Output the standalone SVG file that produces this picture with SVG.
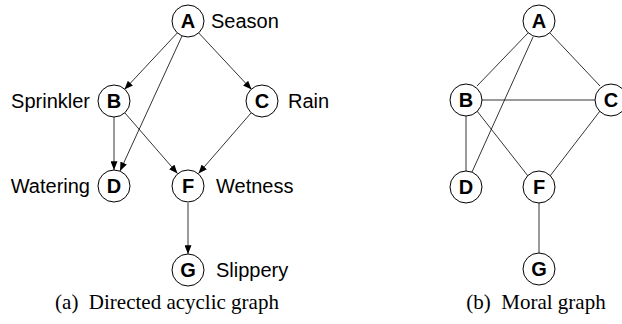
<svg xmlns="http://www.w3.org/2000/svg" width="622" height="324" viewBox="0 0 622 324">
<defs>
<style>
.n{fill:#fff;stroke:#000;stroke-width:1}
.nl{font-family:"Liberation Sans",Arial,sans-serif;font-weight:bold;font-size:20px;text-anchor:middle;fill:#000}
.lb{font-family:"Liberation Sans",Arial,sans-serif;font-size:20px;fill:#000}
.cap{font-family:"Liberation Serif","Times New Roman",serif;font-size:21px;fill:#000;text-anchor:middle}
.e{stroke:#000;stroke-width:0.8;fill:none}
.d{marker-end:url(#ah)}
</style>
<marker id="ah" viewBox="0 0 10 8" refX="10" refY="4" markerWidth="9" markerHeight="7" markerUnits="userSpaceOnUse" orient="auto">
<path d="M0,0 L10,4 L0,8 z" fill="#000"/>
</marker>
</defs>
<g id="connectors">
<line class="e d" x1="177.5" y1="32.7" x2="124.4" y2="89.6"/>
<line class="e d" x1="198.5" y1="32.7" x2="251.6" y2="89.6"/>
<line class="e d" x1="182" y1="36" x2="120" y2="171"/>
<line class="e d" x1="114" y1="117" x2="114" y2="170"/>
<line class="e d" x1="125" y1="113" x2="177.5" y2="173.5"/>
<line class="e d" x1="251" y1="113" x2="198.5" y2="173.5"/>
<line class="e d" x1="188" y1="203" x2="188" y2="254"/>
<line class="e" x1="528" y1="33" x2="477" y2="86"/>
<line class="e" x1="550" y1="33" x2="600" y2="86"/>
<line class="e" x1="533" y1="37" x2="472" y2="172"/>
<line class="e" x1="482" y1="100" x2="595" y2="100"/>
<line class="e" x1="466" y1="116" x2="466" y2="171"/>
<line class="e" x1="477" y1="111" x2="528" y2="176"/>
<line class="e" x1="600" y1="111" x2="550" y2="176"/>
<line class="e" x1="539" y1="203" x2="539" y2="253"/>
</g>
<g id="nodeA"><circle class="n" cx="188" cy="21" r="16"/><text class="nl" x="188" y="28">A</text><text class="lb" x="211" y="28">Season</text></g>
<g id="nodeB"><circle class="n" cx="114" cy="101" r="16"/><text class="nl" x="114" y="108">B</text><text class="lb" x="90" y="108" text-anchor="end">Sprinkler</text></g>
<g id="nodeC"><circle class="n" cx="262" cy="101" r="16"/><text class="nl" x="262" y="108">C</text><text class="lb" x="288" y="108">Rain</text></g>
<g id="nodeD"><circle class="n" cx="114" cy="186" r="16"/><text class="nl" x="114" y="193">D</text><text class="lb" x="90" y="193" text-anchor="end">Watering</text></g>
<g id="nodeF"><circle class="n" cx="188" cy="186" r="16"/><text class="nl" x="188" y="193">F</text><text class="lb" x="216" y="193">Wetness</text></g>
<g id="nodeG"><circle class="n" cx="188" cy="270" r="16"/><text class="nl" x="188" y="277">G</text><text class="lb" x="216" y="277">Slippery</text></g>
<g id="nodeA2"><circle class="n" cx="539" cy="21" r="16"/><text class="nl" x="539" y="28">A</text></g>
<g id="nodeB2"><circle class="n" cx="466" cy="100" r="16"/><text class="nl" x="466" y="107">B</text></g>
<g id="nodeC2"><circle class="n" cx="611" cy="100" r="16"/><text class="nl" x="611" y="107">C</text></g>
<g id="nodeD2"><circle class="n" cx="466" cy="187" r="16"/><text class="nl" x="466" y="194">D</text></g>
<g id="nodeF2"><circle class="n" cx="539" cy="187" r="16"/><text class="nl" x="539" y="194">F</text></g>
<g id="nodeG2"><circle class="n" cx="539" cy="269" r="16"/><text class="nl" x="539" y="276">G</text></g>
<text class="cap" x="167" y="309" xml:space="preserve">(a)  Directed acyclic graph</text>
<text class="cap" x="536" y="309" xml:space="preserve">(b)  Moral graph</text>
</svg>
